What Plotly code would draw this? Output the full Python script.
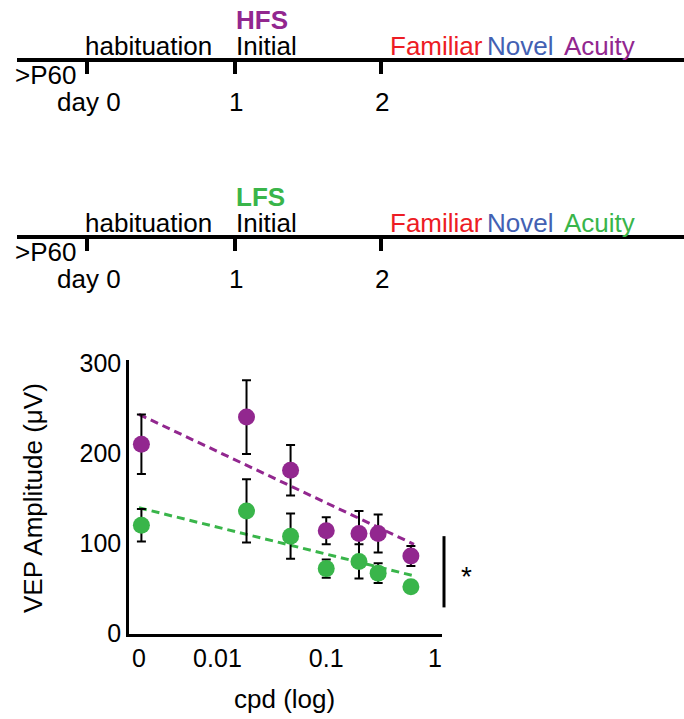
import plotly.graph_objects as go

# ---------------- data ----------------
cpd = [0.002, 0.0185, 0.047, 0.1, 0.2, 0.3, 0.6]
hfs_amp = [210, 240, 181, 114, 111, 111, 86]
hfs_sem = [33, 41, 28, 15, 25, 21, 11]
lfs_amp = [120, 136, 108, 72, 80, 67, 52]
lfs_sem = [18, 35, 25, 10, 19, 11, 5]

trend_x = [0.0019, 0.64]
hfs_trend = [243, 99]
lfs_trend = [139.5, 64]

x_tickvals = [0.0019, 0.01, 0.1, 1]
x_ticktext = ["0", "0.01", "0.1", "1"]
y_tickvals = [0, 100, 200, 300]

timeline_days = ["day 0", "1", "2"]
groups = ["HFS", "LFS"]

# ---------------- style ----------------
W, H = 684, 719
FONT = "Liberation Sans, Arial, sans-serif"
PURPLE = "#92278F"
GREEN = "#39B54A"
RED = "#ED1C24"
BLUE = "#4361B3"
group_colors = {"HFS": PURPLE, "LFS": GREEN}


def px(x):
    return x / W


def py(y):
    return 1 - y / H


fig = go.Figure()

# trend lines
fig.add_trace(go.Scatter(x=trend_x, y=hfs_trend, mode="lines",
                         line=dict(color=PURPLE, width=3, dash="8px,5px"),
                         showlegend=False, hoverinfo="skip"))
fig.add_trace(go.Scatter(x=trend_x, y=lfs_trend, mode="lines",
                         line=dict(color=GREEN, width=3, dash="8px,5px"),
                         showlegend=False, hoverinfo="skip"))

# data points
for amp, sem, col in [(hfs_amp, hfs_sem, PURPLE), (lfs_amp, lfs_sem, GREEN)]:
    fig.add_trace(go.Scatter(
        x=cpd, y=amp, mode="markers",
        marker=dict(color=col, size=17, line=dict(width=0)),
        error_y=dict(type="data", array=sem, visible=True,
                     color="black", thickness=2, width=4.5),
        showlegend=False, cliponaxis=False))

shapes = []
annotations = []

# ---------------- timelines ----------------
for gi, g in enumerate(groups):
    dy = gi * 177
    col = group_colors[g]
    # main line
    shapes.append(dict(type="line", xref="paper", yref="paper",
                       x0=px(17), x1=px(684), y0=py(60 + dy), y1=py(60 + dy),
                       line=dict(color="black", width=4)))
    # ticks
    for tx in [87, 235, 381]:
        shapes.append(dict(type="line", xref="paper", yref="paper",
                           x0=px(tx), x1=px(tx), y0=py(60 + dy), y1=py(74 + dy),
                           line=dict(color="black", width=4)))

    def txt(text, x, y, color="black", anchor="left", bold=False):
        annotations.append(dict(
            text=f"<b>{text}</b>" if bold else text,
            x=px(x), y=py(y + dy), xref="paper", yref="paper",
            xanchor=anchor, yanchor="middle", showarrow=False, borderpad=0,
            font=dict(family=FONT, size=26, color=color)))

    txt(g, 235, 20, col, bold=True)
    txt("habituation", 84, 46)
    txt("Initial", 235, 46)
    txt("Familiar", 389, 46, RED)
    txt("Novel", 486, 46, BLUE)
    txt("Acuity", 563, 46, col)
    txt("&gt;P60", 14, 75)
    txt(timeline_days[0], 56, 102)
    txt(timeline_days[1], 236, 102, anchor="center")
    txt(timeline_days[2], 382, 102, anchor="center")

# ---------------- chart decorations ----------------
# significance bar
shapes.append(dict(type="line", xref="paper", yref="y",
                   x0=px(444), x1=px(444), y0=108, y1=29,
                   line=dict(color="black", width=3)))
annotations.append(dict(text="*", x=px(466), y=py(576), xref="paper", yref="paper",
                        xanchor="center", yanchor="middle", showarrow=False,
                        font=dict(family=FONT, size=28, color="black")))
# axis titles
annotations.append(dict(text="VEP Amplitude (μV)", x=px(33), y=py(498),
                        xref="paper", yref="paper", textangle=-90,
                        xanchor="center", yanchor="middle", showarrow=False,
                        font=dict(family=FONT, size=26, color="black")))
annotations.append(dict(text="cpd (log)", x=px(284), y=py(699),
                        xref="paper", yref="paper",
                        xanchor="center", yanchor="middle", showarrow=False,
                        font=dict(family=FONT, size=26, color="black")))

fig.update_layout(
    width=W, height=H,
    margin=dict(l=0, r=0, t=0, b=0, pad=0),
    paper_bgcolor="white", plot_bgcolor="white",
    showlegend=False,
    shapes=shapes, annotations=annotations,
    font=dict(family=FONT, size=25, color="black"),
    xaxis=dict(type="log", range=[-2.813, 0.064],
               domain=[px(129), px(442)], automargin=False,
               showline=True, linecolor="black", linewidth=2.5,
               ticks="", showgrid=False, zeroline=False,
               tickvals=x_tickvals, ticktext=x_ticktext,
               tickfont=dict(family=FONT, size=25, color="black")),
    yaxis=dict(range=[-0.5, 303],
               domain=[py(634), py(360.3)], automargin=False,
               showline=True, linecolor="black", linewidth=2.5,
               ticks="", showgrid=False, zeroline=False,
               tickvals=y_tickvals,
               tickfont=dict(family=FONT, size=25, color="black")),
)

fig.write_html("out.html", config={"displayModeBar": False},
               post_script="document.body.style.margin='0';document.body.style.padding='0';")
